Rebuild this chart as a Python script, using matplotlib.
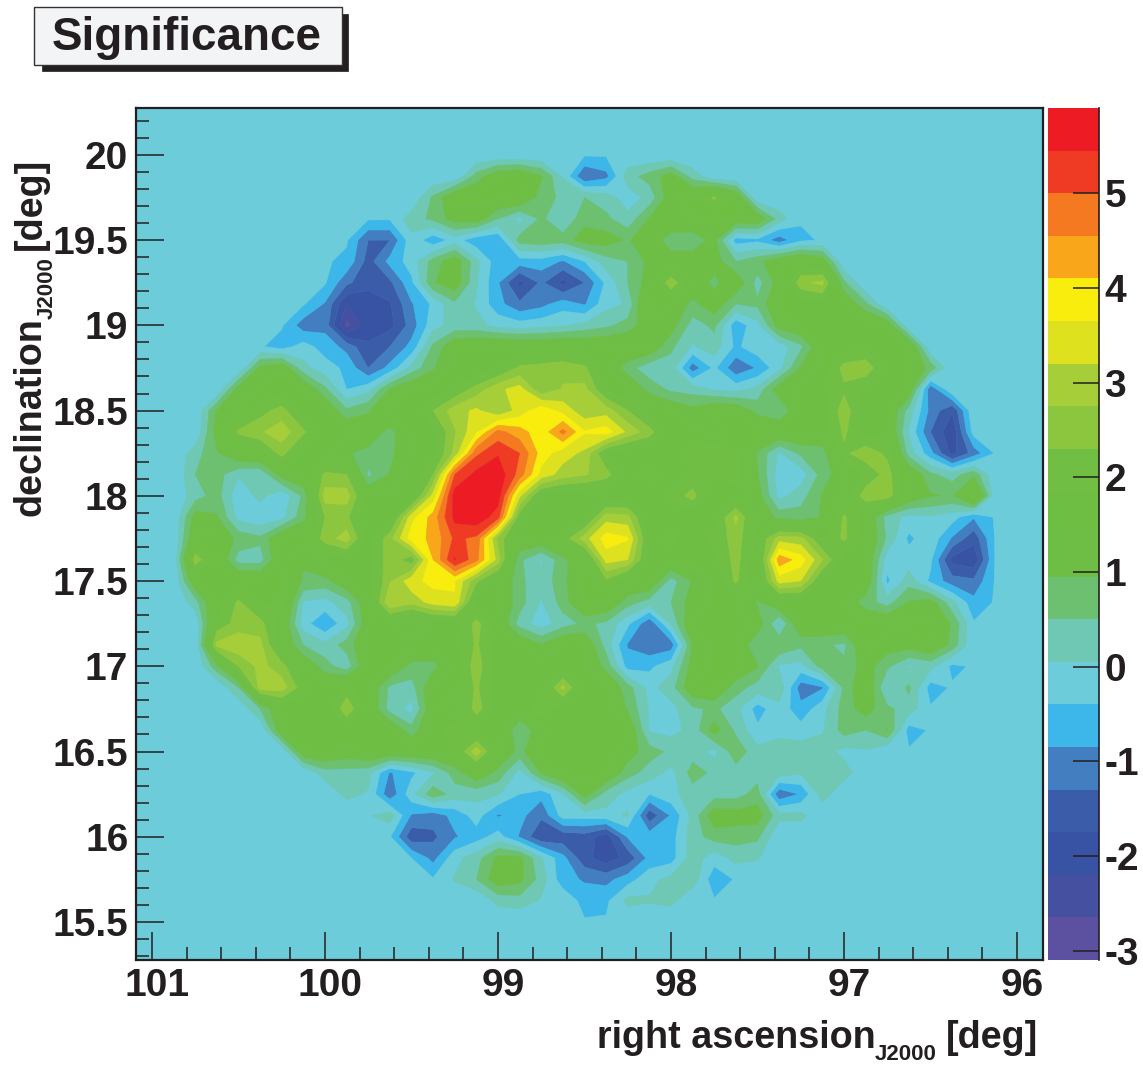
import numpy as np
import matplotlib
matplotlib.use("Agg")
import matplotlib.pyplot as plt
from matplotlib.colors import ListedColormap, BoundaryNorm
from matplotlib.patches import Rectangle
from matplotlib.ticker import MultipleLocator, FixedLocator
from matplotlib.transforms import ScaledTranslation

plt.rcParams['font.family'] = ['Liberation Sans', 'DejaVu Sans']
plt.rcParams['font.weight'] = 'bold'
INK = '#231F20'

TITLE = 'Significance'
RA_TICKS = [101, 100, 99, 98, 97, 96]
DEC_TICKS = [20, 19.5, 19, 18.5, 18, 17.5, 17, 16.5, 16, 15.5]
DEC_LABELS = ['20', '19.5', '19', '18.5', '18', '17.5', '17', '16.5', '16', '15.5']
CBAR_TICKS = [5, 4, 3, 2, 1, 0, -1, -2, -3]
LEVELS = [-3.1, -2.65, -2.2, -1.75, -1.3, -0.85, -0.4, 0.05, 0.5, 0.95, 1.4,
          1.85, 2.3, 2.75, 3.2, 3.65, 4.1, 4.55, 5.0, 5.45, 5.9]
COLORS = ['#5C50A0', '#4650A0', '#3953A4', '#3B5CA8', '#437EC0', '#3DB7E9',
          '#6CCCDA', '#6FC8B4', '#6CC070', '#6EBE45', '#6EBE44', '#70BE44',
          '#8CC63F', '#A6CE39', '#DEE11E', '#F9ED0E', '#FAA61A', '#F47920',
          '#EF3B24', '#ED1C24']

RA_FIRST, RA_STEP, RA_COUNT = 101.0, -0.125, 41
DEC_FIRST, DEC_STEP, DEC_COUNT = 20.125, -0.125, 39
OUTSIDE = -0.35  # empty sky, still inside the cyan band

# (first column, significance values) per declination row
R00 = (0, [])
R01 = (0, [])
R02 = (15, [0.7,1.4,1.5,1.0,0.0,-1.3,-1.0,0.3,0.7,1.2,0.3])
R03 = (13, [0.6,1.5,1.5,1.5,1.6,0.7,0.4,0.5,0.3,-0.2,0.2,1.3,1.6,2.4,1.5])
R04 = (12, [0.3,0.6,1.2,1.3,0.5,-0.1,0.6,0.1,0.8,0.6,0.2,1.0,1.4,1.4,1.5,1.4,1.4,0.3])
R05 = (10, [-1.3,-1.3,-0.1,-0.7,-0.2,-0.7,-0.8,0.7,0.8,0.7,1.2,1.2,0.9,1.3,0.7,0.7,1.1,-0.6,-0.5,-1.1,-0.5])
R06 = (9, [-0.5,-1.5,-0.7,-0.2,0.7,1.3,0.2,-0.7,-0.6,-0.6,-0.9,-0.4,0.3,0.5,1.1,1.2,1.2,1.2,0.5,0.8,1.4,1.7,1.3])
R07 = (9, [-1.2,-1.6,-1.4,-0.5,0.9,1.3,0.1,-0.8,-1.9,-1.2,-1.9,-1.3,-0.3,0.5,1.2,2.7,1.4,0.8,1.4,0.3,1.2,2.6,2.9,0.6])
R08 = (8, [-0.9,-2.2,-2.0,-1.8,-0.9,-0.3,0.4,0.0,-0.7,-1.2,-1.0,-0.6,-0.9,-0.1,0.1,2.0,1.4,0.8,1.3,0.5,0.6,1.5,1.6,1.7,1.5,0.6])
R09 = (7, [-1.1,-1.0,-2.8,-1.9,-1.9,-1.1,-0.1,0.2,0.2,-0.1,-0.2,-0.1,0.0,0.2,0.4,0.7,1.3,1.2,0.3,0.6,-0.7,-0.1,1.2,1.5,1.5,1.7,1.7,1.4])
R10 = (6, [-0.6,-0.2,-0.6,-1.0,-1.7,-1.3,-0.7,0.6,1.4,1.5,1.6,1.5,1.5,1.6,1.5,1.5,1.5,1.4,0.6,0.0,0.3,-0.5,-0.1,-0.2,0.4,1.5,1.6,1.7,1.8,1.6])
R11 = (5, [1.1,1.4,0.2,-0.2,-0.5,-1.3,-0.7,0.2,0.9,1.5,1.5,1.8,2.4,2.5,2.6,2.4,1.5,0.7,0.2,0.3,-1.1,-0.3,-1.2,-0.8,-0.1,1.0,1.5,2.5,2.7,1.6,1.5,0.8])
R12 = (4, [1.2,1.4,1.6,1.5,0.6,-0.4,-0.1,1.0,1.5,1.5,1.9,2.5,3.1,3.4,2.4,2.8,2.9,1.8,1.5,0.8,0.4,0.3,0.0,-0.1,0.2,1.3,1.5,1.6,2.2,1.7,1.6,1.4,-1.2,0.0])
R13 = (3, [1.0,1.5,2.1,2.5,1.6,1.5,0.6,0.9,1.5,1.5,2.3,3.0,3.3,2.8,3.4,4.0,3.5,2.9,3.0,2.3,1.6,1.4,1.1,1.5,1.4,0.8,0.5,1.5,1.6,2.6,1.6,1.5,0.3,-1.0,-1.7,0.0])
R14 = (3, [1.2,2.4,2.7,3.0,2.4,1.6,1.5,1.3,0.8,1.5,1.7,2.7,3.6,4.7,4.3,3.8,4.7,3.7,3.9,3.1,2.5,1.6,1.5,1.2,1.6,1.6,1.5,1.5,1.5,2.4,1.7,1.6,0.0,-1.3,-2.1,-0.2])
R15 = (2, [0.3,0.9,1.5,1.6,2.5,1.5,1.5,1.0,0.8,0.8,1.5,1.7,2.9,4.9,5.4,5.0,3.9,3.4,3.1,1.8,1.5,1.6,1.5,2.0,2.3,1.9,0.9,0.0,0.6,0.7,2.2,2.6,2.2,0.3,-0.7,-1.9,-1.1])
R16 = (2, [0.5,0.7,0.1,0.1,1.2,1.5,2.4,2.3,0.4,1.0,1.5,2.3,5.0,5.6,5.8,4.8,3.5,3.0,2.8,2.5,1.7,2.0,1.6,1.9,1.8,2.2,1.0,-0.2,-0.2,0.7,1.3,1.9,2.5,1.5,0.6,0.3,0.8])
R17 = (2, [0.3,0.7,-0.3,0.2,-0.3,0.6,3.0,3.0,1.5,1.4,1.5,3.4,5.7,5.8,5.7,3.3,1.7,1.5,1.5,1.5,1.5,1.6,2.0,2.5,1.4,1.5,1.2,-0.1,0.3,1.0,1.5,2.6,2.6,1.4,1.0,0.9,2.2])
R18 = (2, [1.2,1.0,-0.1,-0.3,-0.1,0.8,2.3,2.4,1.4,1.5,3.5,4.3,5.6,5.8,5.2,2.0,1.5,1.5,1.6,3.0,2.9,1.5,1.5,1.5,1.7,2.9,1.4,0.8,0.7,1.0,2.4,1.5,0.3,-0.1,0.0,-0.2,-0.8])
R19 = (2, [1.5,1.5,0.8,0.6,1.5,1.6,2.5,3.0,1.6,2.6,3.9,4.2,5.1,4.9,2.6,1.5,1.5,2.0,3.0,3.9,3.7,1.7,2.0,1.6,2.0,2.5,1.8,3.0,2.9,1.8,2.4,1.6,0.4,-0.5,-0.1,-0.9,-1.6])
R20 = (2, [2.6,1.6,0.3,0.3,1.5,1.0,1.6,1.6,1.6,2.6,2.0,4.1,5.5,4.7,3.0,0.6,0.0,0.8,1.4,3.4,3.2,1.6,1.6,1.6,1.7,2.5,1.5,4.4,3.9,2.8,1.6,1.5,-0.2,-0.2,-0.3,-1.9,-2.1])
R21 = (2, [1.4,1.5,1.6,1.5,1.5,0.9,0.8,1.4,1.5,2.7,3.5,3.8,3.7,2.4,1.6,0.6,0.2,0.8,1.6,2.2,1.5,1.5,0.3,1.0,1.5,2.4,1.4,3.4,3.2,1.7,1.5,1.5,-0.5,0.3,-0.5,-1.1,-1.2])
R22 = (2, [0.3,1.6,2.4,1.6,2.0,0.0,-0.1,0.3,1.4,3.2,2.9,3.4,3.6,1.5,1.5,0.7,0.0,0.7,1.6,1.5,0.7,0.3,0.5,1.2,1.5,1.5,0.9,1.5,1.5,1.5,1.4,0.7,0.3,1.0,1.2,0.2,-0.7])
R23 = (3, [2.0,2.5,2.5,1.5,-0.2,-0.8,-0.1,1.4,1.5,1.0,1.5,1.5,2.5,1.5,0.3,-0.2,0.3,0.6,0.4,-0.3,-1.2,0.1,1.5,1.6,1.5,1.3,0.0,1.5,1.5,1.5,1.5,1.5,1.5,1.5,0.9])
R24 = (3, [2.9,3.1,2.9,1.5,0.5,0.2,0.7,1.5,1.6,1.5,1.5,1.5,2.4,1.5,1.5,1.0,1.5,1.5,0.3,-0.9,-1.2,-1.1,1.0,1.5,1.5,0.5,0.9,0.6,0.6,0.4,1.5,1.2,1.2,1.5,0.8])
R25 = (3, [0.8,2.3,2.9,2.5,1.5,0.7,0.2,1.5,1.5,0.8,0.8,1.5,2.6,1.5,1.5,1.5,1.5,1.5,0.8,-0.6,-0.5,-0.1,1.2,1.5,1.5,1.0,0.0,-0.1,0.7,0.6,1.2,0.6,0.0,0.2,-0.5])
R26 = (4, [0.5,3.0,3.0,2.0,1.5,2.0,1.5,0.4,0.3,1.5,1.5,2.4,1.5,1.5,1.5,2.9,1.5,1.5,0.7,-0.1,0.3,1.4,1.5,0.7,0.3,0.4,-1.1,-0.9,0.6,1.5,0.0,0.6,-0.6])
R27 = (5, [0.5,1.5,1.5,1.4,2.7,1.5,0.3,-0.1,1.5,1.1,2.6,1.5,1.5,2.2,1.5,1.5,1.5,0.9,0.0,-0.1,0.4,0.6,0.2,-0.6,-0.1,-0.7,-0.1,0.7,1.2,0.6,0.3])
R28 = (6, [1.4,1.5,1.5,1.6,1.5,1.5,0.7,1.5,2.3,1.5,1.8,0.5,1.3,1.5,1.5,1.5,1.5,0.0,-0.1,0.2,1.2,0.4,-0.3,-0.1,-0.2,0.0,0.7,0.5,1.0,-0.6])
R29 = (7, [1.4,1.5,1.3,1.5,1.5,1.5,1.5,1.7,3.1,1.5,0.8,1.5,1.5,1.5,1.5,1.2,0.7,0.4,0.3,-0.1,0.8,0.2,0.3,0.3,0.3,-0.1,0.0])
R30 = (8, [0.3,0.3,0.2,-0.9,-0.5,0.0,0.7,1.4,0.8,-0.1,1.0,1.6,1.5,1.5,0.7,0.3,-0.1,0.7,0.4,0.3,0.3,0.3,0.1,0.2,0.3])
R31 = (9, [0.2,0.0,-1.2,-0.1,0.8,0.3,0.2,0.1,-0.4,-0.7,0.0,1.2,0.3,-0.1,-0.4,-0.1,0.3,0.3,0.3,0.7,-1.2,-0.8,0.3])
R32 = (10, [0.0,0.3,-0.9,-1.1,-0.7,-0.2,-0.9,-0.7,-1.2,-0.2,-0.2,-0.1,0.1,-1.6,-0.8,0.2,1.3,1.2,1.2,0.2,0.2])
R33 = (12, [-1.6,-1.4,-0.9,-0.6,-0.2,-0.9,-1.7,-1.6,-1.5,-2.0,-0.8,-0.6,-0.6,0.3,0.7,0.7,0.6])
R34 = (12, [-0.4,-1.0,-0.1,0.3,1.1,1.1,0.1,-0.7,-1.6,-2.0,-1.6,-0.7,-0.6,0.3,-0.2,0.2,0.1])
R35 = (14, [0.1,0.5,1.3,1.1,0.3,-0.7,-0.9,-1.0,-0.6,-0.1,0.2,0.3,-0.7])
R36 = (16, [0.2,0.3,0.0,0.0,-0.6,-0.5,0.2,0.1,0.2])
R37 = (0, [])
R38 = (0, [])
ROWS = [R00, R01, R02, R03, R04, R05, R06, R07, R08, R09, R10, R11, R12,
        R13, R14, R15, R16, R17, R18, R19, R20, R21, R22, R23, R24, R25,
        R26, R27, R28, R29, R30, R31, R32, R33, R34, R35, R36, R37, R38]

ra = RA_FIRST + RA_STEP * np.arange(RA_COUNT)
dec = DEC_FIRST + DEC_STEP * np.arange(DEC_COUNT)
Z = np.full((DEC_COUNT, RA_COUNT), OUTSIDE)
for j, (start, vals) in enumerate(ROWS):
    Z[j, start:start + len(vals)] = vals

W, H = 1143, 1065
fig = plt.figure(figsize=(W / 100, H / 100), dpi=100, facecolor='white')


def px_axes(x0, y0, x1, y1):
    return fig.add_axes([x0 / W, 1 - y1 / H, (x1 - x0) / W, (y1 - y0) / H])


cmap = ListedColormap(COLORS)
norm = BoundaryNorm(LEVELS, cmap.N)

ax = px_axes(136, 108, 1043, 960)
ax.set_facecolor('#6CCCDA')
cs = ax.contourf(ra, dec, Z, levels=LEVELS, cmap=cmap, norm=norm, antialiased=True)
cs.set_edgecolor('face')
cs.set_linewidth(0.3)
ax.set_xlim(101.0925, 95.85)
ax.set_ylim(15.277, 20.275)

ax.xaxis.set_major_locator(FixedLocator(RA_TICKS))
ax.xaxis.set_minor_locator(MultipleLocator(0.2))
ax.yaxis.set_major_locator(FixedLocator(DEC_TICKS))
ax.yaxis.set_minor_locator(MultipleLocator(0.1))
ax.set_xticklabels([str(t) for t in RA_TICKS])
ax.set_yticklabels(DEC_LABELS)
ax.tick_params(which='major', direction='in', length=20, width=1.1, color=INK,
               labelsize=28, labelcolor=INK)
ax.tick_params(which='minor', direction='in', length=9.5, width=1.1, color=INK)
ax.tick_params(axis='x', which='major', pad=6)
ax.tick_params(axis='y', which='major', pad=5.5)
shift = ScaledTranslation(5 / 100, 0, fig.dpi_scale_trans)
for lab in ax.get_xticklabels():
    lab.set_transform(lab.get_transform() + shift)
for s in ax.spines.values():
    s.set_linewidth(1.6)
    s.set_color(INK)

cax = px_axes(1048, 108, 1099, 960)
cax.pcolormesh([0, 1], LEVELS, np.array(LEVELS[:-1])[:, None] + 0.01, cmap=cmap, norm=norm)
cax.set_ylim(LEVELS[0], LEVELS[-1])
cax.set_xlim(0, 1)
cax.set_xticks([])
cax.yaxis.tick_right()
cax.set_yticks(CBAR_TICKS)
cax.set_yticklabels([str(t) for t in CBAR_TICKS])
cax.tick_params(axis='y', direction='in', length=19, width=1.1, color=INK,
                labelsize=28, labelcolor=INK, pad=4)
for name, s in cax.spines.items():
    s.set_visible(name == 'right')
    s.set_linewidth(1.2)
    s.set_color(INK)


def tx(x, y, s, size, **kw):
    fig.text(x / W, 1 - y / H, s, fontsize=size, color=INK, fontweight='bold', **kw)


# title box with drop shadow
fig.add_artist(Rectangle((42 / W, 1 - 71 / H), 306 / W, 57 / H, transform=fig.transFigure,
                         facecolor=INK, edgecolor=INK, lw=0.5))
fig.add_artist(Rectangle((34 / W, 1 - 65 / H), 308 / W, 58 / H, transform=fig.transFigure,
                         facecolor='#F3F4F6', edgecolor='#333333', lw=1.0))
tx(52, 50, TITLE, 33, ha='left', va='baseline')

tx(597, 1048, 'right ascension', 27.2, ha='left', va='baseline')
tx(875, 1060, 'J2000', 16, ha='left', va='baseline')
tx(946, 1048, '[deg]', 27.2, ha='left', va='baseline')

tx(41, 516, 'declination', 27.2, ha='left', va='baseline', rotation=90, rotation_mode='anchor')
tx(53, 319, 'J2000', 16, ha='left', va='baseline', rotation=90, rotation_mode='anchor')
tx(41, 250, '[deg]', 27.2, ha='left', va='baseline', rotation=90, rotation_mode='anchor')

fig.savefig('out.png', dpi=100, facecolor='white')
